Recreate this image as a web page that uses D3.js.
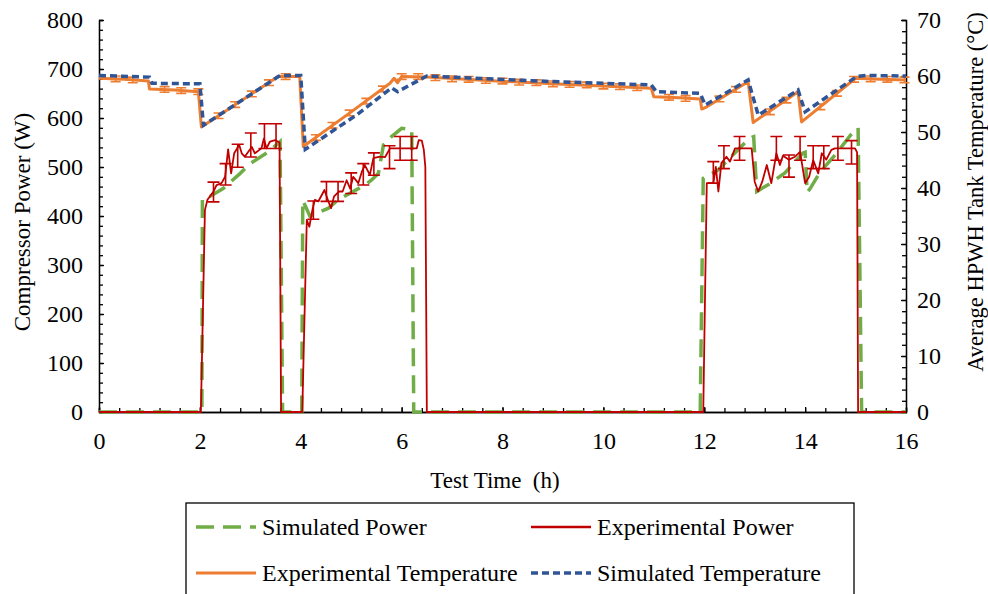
<!DOCTYPE html>
<html>
<head>
<meta charset="utf-8">
<script src="https://cdn.jsdelivr.net/npm/d3@7"></script>
<style>
    body { margin: 0; background: white; }
    text { font-family: "Liberation Serif", "Times New Roman", serif; fill: black; }
</style>
</head>
<body>
<div id="container"></div>
<script>
// tick labels
const timeTicks = [0, 2, 4, 6, 8, 10, 12, 14, 16]
const powerTicks = [0, 100, 200, 300, 400, 500, 600, 700, 800]
const tempTicks = [0, 10, 20, 30, 40, 50, 60, 70]

// [time h, power W]
const simPower = [
    [0, 0], [2.04, 0], [2.05, 436], [2.2, 440], [2.46, 456], [2.8, 487], [3.0, 507], [3.36, 531], [3.59, 552], [3.64, 0],
    [4.02, 0], [4.04, 432], [4.18, 400], [4.55, 416], [4.74, 433], [5.27, 463], [5.4, 473], [5.54, 487], [5.64, 545],
    [5.8, 562], [6.0, 579], [6.2, 576], [6.24, 0],
    [11.92, 0], [11.98, 477], [12.28, 494], [12.5, 518], [12.9, 559], [12.98, 562], [13.04, 450], [13.3, 466],
    [13.6, 488], [13.95, 528], [14.0, 530], [14.04, 448], [14.1, 456], [14.3, 490], [14.6, 525], [14.9, 565],
    [15.05, 580], [15.12, 0], [16, 0]
]

const expPower = [
    [0, 0], [2.02, 0], [2.1, 412], [2.15, 433], [2.27, 450], [2.33, 463], [2.43, 467], [2.5, 480], [2.56, 536],
    [2.62, 487], [2.68, 528], [2.78, 545], [2.83, 528], [2.89, 521], [2.96, 531], [3.03, 541], [3.09, 528],
    [3.22, 538], [3.27, 558], [3.32, 538], [3.39, 552], [3.49, 555], [3.58, 550], [3.61, 0],
    [4.03, 0], [4.12, 392], [4.17, 378], [4.23, 412], [4.28, 433], [4.35, 430], [4.47, 453], [4.55, 429],
    [4.6, 416], [4.66, 440], [4.76, 450], [4.83, 450], [4.91, 473], [4.98, 456], [5.04, 480], [5.14, 467],
    [5.21, 490], [5.27, 504], [5.37, 484], [5.44, 518], [5.57, 521], [5.67, 520], [5.77, 538], [6.3, 538],
    [6.34, 555], [6.4, 554], [6.44, 535], [6.47, 500], [6.5, 0],
    [11.98, 0], [12.05, 467], [12.18, 467], [12.23, 500], [12.28, 450], [12.34, 508], [12.44, 521], [12.51, 511],
    [12.61, 538], [12.94, 538], [13.0, 470], [13.07, 450], [13.15, 470], [13.24, 504], [13.33, 467], [13.43, 528],
    [13.5, 504], [13.56, 523], [13.68, 515], [13.8, 521], [13.9, 531], [14.0, 467], [14.08, 480], [14.16, 514],
    [14.26, 487], [14.33, 528], [14.42, 515], [14.52, 535], [14.59, 538], [14.99, 538], [15.03, 530], [15.05, 0],
    [16, 0]
]

const expPowerBars = [
    [2.27, 449], [2.51, 485], [2.75, 523], [3.01, 545], [3.28, 563], [3.51, 563],
    [4.25, 412], [4.51, 450], [4.74, 450], [5.0, 467], [5.24, 485], [5.45, 506], [5.76, 520], [5.97, 538], [6.2, 538],
    [12.18, 489], [12.39, 520], [12.7, 538], [13.43, 538], [13.68, 502], [13.9, 538], [14.16, 520], [14.37, 520],
    [14.65, 538], [14.92, 530]
]

// [time h, temperature C]
const expTemp = [
    [0, 59.6], [0.5, 59.4], [0.98, 59.1], [1.0, 57.7], [1.5, 57.5], [1.97, 57.2], [2.03, 50.9], [3.55, 59.9],
    [3.98, 59.9], [4.05, 47.4], [5.0, 53.6], [5.77, 58.7], [5.85, 59.6], [5.92, 58.8], [6.0, 59.9], [6.5, 59.8],
    [7.7, 59.2], [9.0, 58.6], [10.3, 58.1], [10.95, 57.8], [11.0, 56.3], [11.5, 56.1], [11.92, 55.9], [11.95, 54.1],
    [12.05, 54.5], [12.87, 59.0], [12.97, 51.7], [13.86, 57.2], [13.93, 51.8], [15.0, 59.6], [15.5, 59.4], [16, 59.3]
]

const expTempBars = [
    [0.33, 59.5], [0.67, 59.3], [1.3, 57.6], [1.63, 57.4], [1.97, 57.2], [2.37, 52.9], [2.7, 54.9], [3.03, 56.8],
    [3.37, 58.8], [3.7, 59.9], [4.3, 49.0], [4.63, 51.2], [4.97, 53.4], [5.3, 55.5], [5.63, 57.7], [6.0, 59.9],
    [6.33, 59.9], [6.67, 59.7], [7.0, 59.5], [7.33, 59.4], [7.67, 59.2], [8.0, 59.1], [8.33, 58.9], [8.67, 58.8],
    [9.0, 58.6], [9.33, 58.5], [9.67, 58.4], [10.0, 58.2], [10.33, 58.1], [10.67, 57.9], [11.3, 56.2], [11.63, 56.0],
    [12.3, 55.9], [12.63, 57.6], [13.3, 53.6], [13.63, 55.7], [14.3, 54.5], [14.63, 56.9], [14.97, 59.4],
    [15.3, 59.5], [15.63, 59.4], [15.97, 59.3]
]

const simTemp = [
    [0, 60.1], [1.0, 59.8], [1.05, 58.7], [2.0, 58.6], [2.07, 51.2], [3.59, 60.1], [4.0, 60.1], [4.09, 46.9],
    [5.1, 53.0], [5.8, 57.9], [5.92, 57.2], [6.5, 60.0], [7.7, 59.5], [9.0, 59.0], [10.3, 58.6], [10.95, 58.4],
    [11.05, 57.2], [11.92, 56.9], [12.02, 54.8], [12.87, 59.3], [13.07, 53.0], [13.86, 57.5], [14.0, 53.6],
    [15.02, 59.9], [15.2, 60.1], [16, 60.0]
]

const w = 988
const h = 594
const plotLeft = 99
const plotRight = 906
const plotTop = 20
const plotBottom = 412

const svg = d3.select("#container")
    .append("svg")
    .attr("width", w)
    .attr("height", h)

const xScale = d3.scaleLinear().domain([0, 16]).range([plotLeft, plotRight])
const yPower = d3.scaleLinear().domain([0, 800]).range([plotBottom, plotTop])
const yTemp = d3.scaleLinear().domain([0, 70]).range([plotBottom, plotTop])

// minor ticks
svg.append("g")
    .attr("transform", `translate(0, ${plotBottom})`)
    .call(d3.axisBottom(xScale).tickValues(d3.range(0, 16.01, 0.4)).tickSize(-4).tickFormat(""))
svg.append("g")
    .attr("transform", `translate(${plotLeft}, 0)`)
    .call(d3.axisLeft(yPower).tickValues(d3.range(0, 801, 20)).tickSize(-4).tickFormat(""))
svg.append("g")
    .attr("transform", `translate(${plotRight}, 0)`)
    .call(d3.axisRight(yTemp).tickValues(d3.range(0, 70.1, 2)).tickSize(-4).tickFormat(""))

// major ticks + labels
svg.append("g")
    .attr("transform", `translate(0, ${plotBottom})`)
    .call(d3.axisBottom(xScale).tickValues(timeTicks).tickSize(-5).tickSizeOuter(0).tickPadding(20))
svg.append("g")
    .attr("transform", `translate(${plotLeft}, 0)`)
    .call(d3.axisLeft(yPower).tickValues(powerTicks).tickSize(-5).tickSizeOuter(0).tickPadding(16))
svg.append("g")
    .attr("transform", `translate(${plotRight}, 0)`)
    .call(d3.axisRight(yTemp).tickValues(tempTicks).tickSize(-5).tickSizeOuter(0).tickPadding(11))

svg.selectAll(".domain, .tick line")
    .attr("stroke", "black")
    .attr("stroke-width", 1.3)
svg.selectAll(".tick text")
    .style("font-size", "24px")
    .style("font-family", "'Liberation Serif', serif")

// axis titles
svg.append("text")
    .text("Compressor Power (W)")
    .attr("text-anchor", "middle")
    .attr("transform", "translate(30, 222) rotate(-90)")
    .style("font-size", "23px")
svg.append("text")
    .text("Average HPWH Tank Temperature (°C)")
    .attr("text-anchor", "middle")
    .attr("transform", "translate(983, 192) rotate(-90)")
    .style("font-size", "22.5px")
svg.append("text")
    .text("Test Time  (h)")
    .attr("text-anchor", "middle")
    .attr("x", 495)
    .attr("y", 488)
    .style("font-size", "23px")
    .style("white-space", "pre")

const powerLine = d3.line().x((d) => xScale(d[0])).y((d) => yPower(d[1]))
const tempLine = d3.line().x((d) => xScale(d[0])).y((d) => yTemp(d[1]))

svg.append("path")
    .datum(simPower)
    .attr("d", powerLine)
    .attr("fill", "none")
    .attr("stroke", "#70AD47")
    .attr("stroke-width", 3.5)
    .attr("stroke-dasharray", "18,9")

svg.append("path")
    .datum(expPower)
    .attr("d", powerLine)
    .attr("fill", "none")
    .attr("stroke", "#C00000")
    .attr("stroke-width", 1.8)
    .attr("stroke-linejoin", "round")

function errorBars(data, scale, err, cap, color) {
    const g = svg.append("g")
        .attr("stroke", color)
        .attr("stroke-width", 1.6)
    g.selectAll(null)
        .data(data)
        .enter()
        .append("path")
        .attr("fill", "none")
        .attr("d", (d) => {
            const x = xScale(d[0])
            const y0 = scale(d[1] - err(d[1]))
            const y1 = scale(d[1] + err(d[1]))
            return `M${x},${y0}V${y1}M${x - cap},${y0}H${x + cap}M${x - cap},${y1}H${x + cap}`
        })
}

errorBars(expPowerBars, yPower, (v) => v * 0.045, 6, "#C00000")

svg.append("path")
    .datum(expTemp)
    .attr("d", tempLine)
    .attr("fill", "none")
    .attr("stroke", "#ED7D31")
    .attr("stroke-width", 3)
    .attr("stroke-linejoin", "round")

errorBars(expTempBars, yTemp, () => 0.5, 5, "#ED7D31")

svg.append("path")
    .datum(simTemp)
    .attr("d", tempLine)
    .attr("fill", "none")
    .attr("stroke", "#2F5597")
    .attr("stroke-width", 3.5)
    .attr("stroke-dasharray", "7,4")

// legend
const legend = svg.append("g")
svg.append("rect")
    .attr("x", 186)
    .attr("y", 503)
    .attr("width", 668)
    .attr("height", 120)
    .attr("fill", "none")
    .attr("stroke", "black")
    .attr("stroke-width", 1.3)

const legendItems = [
    { name: "Simulated Power", color: "#70AD47", dash: "18,9", width: 3.5, x: 196, y: 527 },
    { name: "Experimental Power", color: "#C00000", dash: null, width: 2.5, x: 531, y: 527 },
    { name: "Experimental Temperature", color: "#ED7D31", dash: null, width: 3, x: 196, y: 573 },
    { name: "Simulated Temperature", color: "#2F5597", dash: "7,4", width: 3.5, x: 531, y: 573 }
]
legendItems.forEach((d) => {
    legend.append("line")
        .attr("x1", d.x)
        .attr("x2", d.x + 60)
        .attr("y1", d.y)
        .attr("y2", d.y)
        .attr("stroke", d.color)
        .attr("stroke-width", d.width)
        .attr("stroke-dasharray", d.dash)
    legend.append("text")
        .text(d.name)
        .attr("x", d.x + 66)
        .attr("y", d.y + 8)
        .style("font-size", "24px")
})
</script>
</body>
</html>
